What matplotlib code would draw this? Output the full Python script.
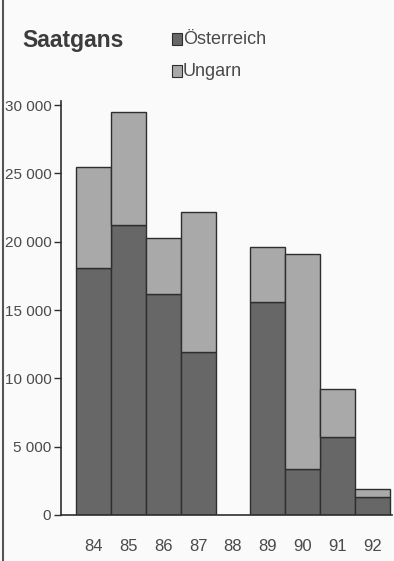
import matplotlib
matplotlib.use("Agg")
import matplotlib.pyplot as plt
from matplotlib.lines import Line2D
from matplotlib.patches import Rectangle
from matplotlib import font_manager

years = ["84", "85", "86", "87", "88", "89", "90", "91", "92"]
oesterreich = [18100, 21200, 16200, 11900, 0, 15600, 3400, 5700, 1300]
ungarn = [7400, 8300, 4100, 10300, 0, 4000, 15700, 3500, 600]
present = [True, True, True, True, False, True, True, True, True]
yticks = [0, 5000, 10000, 15000, 20000, 25000, 30000]
ytick_labels = ["0", "5 000", "10 000", "15 000", "20 000", "25 000", "30 000"]

names = {f.name for f in font_manager.fontManager.ttflist}
fam = "Liberation Sans Narrow" if "Liberation Sans Narrow" in names else "Liberation Sans"
plt.rcParams['font.family'] = [fam, 'DejaVu Sans']

dark = "#676767"
light = "#a9a9a9"
edge = "#2e2e2e"
txt = "#4a4a4a"

fig = plt.figure(figsize=(3.94, 5.61), dpi=100, facecolor="#fafafa")
ax = fig.add_axes([61/394, 1-515/561, (392-61)/394, (515-101)/561])
ax.set_facecolor("#fafafa")

xs = [i for i, p in enumerate(present) if p]
o = [oesterreich[i] for i in xs]
u = [ungarn[i] for i in xs]
ax.bar(xs, o, width=1.0, color=dark, edgecolor=edge, linewidth=1.0)
ax.bar(xs, u, bottom=o, width=1.0, color=light, edgecolor=edge, linewidth=1.0)

ax.set_xlim(-0.93, 8.56)
ax.set_ylim(0, 30300)
ax.set_yticks(yticks)
ax.set_yticklabels(ytick_labels)
ax.set_xticks(range(len(years)))
ax.set_xticklabels(years)
ax.tick_params(axis='y', direction='out', length=5, width=1, color=edge,
               labelsize=11, labelcolor=txt, pad=2)
ax.tick_params(axis='x', length=0, labelsize=12, labelcolor=txt, pad=17)
for s in ["top", "right"]:
    ax.spines[s].set_visible(False)
ax.spines["left"].set_color(edge)
ax.spines["bottom"].set_color(edge)
ax.spines["left"].set_linewidth(1.2)
ax.spines["bottom"].set_linewidth(1.2)

fig.text(22/394, 1-47/561, "Saatgans", fontsize=16.5, fontweight="bold",
         color="#3c3c3c", va="baseline", ha="left")

for yy, col, lab in [(39, dark, "Österreich"), (71, light, "Ungarn")]:
    fig.patches.append(Rectangle((172/394, 1-(yy+6)/561), 10/394, 12/561,
                                 transform=fig.transFigure, facecolor=col,
                                 edgecolor=edge, linewidth=0.8))
    fig.text(183/394, 1-yy/561, lab, fontsize=13, color=txt,
             va="center", ha="left")

fig.add_artist(Line2D([3/394, 3/394], [0, 1], transform=fig.transFigure,
                      color="#555555", linewidth=1.5))

fig.savefig("out.png", dpi=100, facecolor=fig.get_facecolor())
